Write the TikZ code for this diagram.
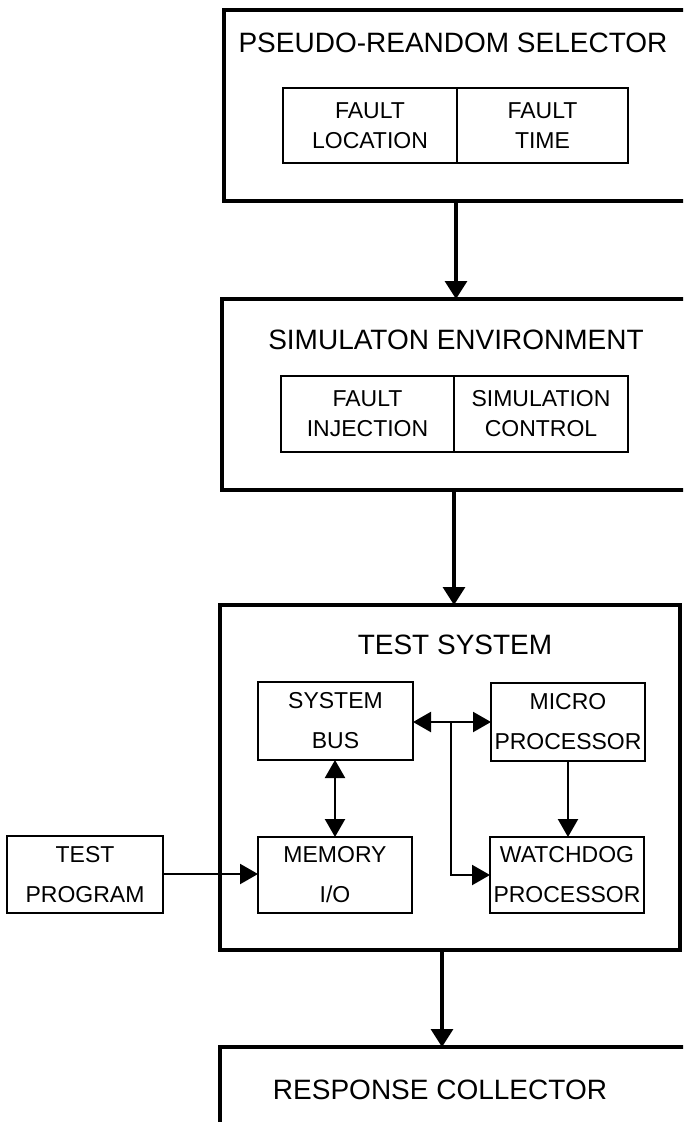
\documentclass[tikz,border=0pt]{standalone}
\usepackage{fontspec}
\setmainfont{Liberation Sans}
\usetikzlibrary{arrows.meta}
\begin{document}
\begin{tikzpicture}[x=1pt,y=-1pt,
  outer/.style={draw,line width=3.4pt,outer sep=0pt,inner sep=0pt,anchor=north west},
  cell/.style={draw,line width=2.2pt,outer sep=0pt,inner sep=0pt,align=center,font=\fontsize{23}{30}\selectfont},
  blk/.style={draw,line width=2.2pt,outer sep=0pt,inner sep=0pt,align=center,font=\fontsize{23}{40}\selectfont},
  ttl/.style={font=\fontsize{28}{30}\selectfont,inner sep=0pt},
  bigarrow/.style={line width=3.2pt,-{Triangle[length=18pt,width=22pt]}},
  smallarrow/.style={line width=2.2pt,-{Triangle[length=18pt,width=20pt]}},
  dblarrow/.style={line width=2.2pt,{Triangle[length=18pt,width=20pt]}-{Triangle[length=18pt,width=20pt]}},
]
\useasboundingbox (0,0) rectangle (683,1122);
\clip (0,0) rectangle (683,1122);

% outer boxes
\node[outer,minimum width=470pt,minimum height=191pt] (b1) at (224,10) {};
\node[outer,minimum width=472pt,minimum height=191pt] (b2) at (222,299) {};
\node[outer,minimum width=460pt,minimum height=345pt] (b3) at (220,605) {};
\node[outer,minimum width=474pt,minimum height=77pt] (b4) at (220,1047) {};

% titles
\node[ttl] (t1) at (453,43) {PSEUDO-REANDOM SELECTOR};
\node[ttl] (t2) at (456,340) {SIMULATON ENVIRONMENT};
\node[ttl] (t3) at (455,645) {TEST SYSTEM};
\node[ttl] (t4) at (440,1090) {RESPONSE COLLECTOR};

% cells of selector
\node[cell,minimum width=174pt,minimum height=75pt] (c1a) at (370,125.5) {FAULT\\LOCATION};
\node[cell,minimum width=171pt,minimum height=75pt] (c1b) at (542.5,125.5) {FAULT\\TIME};

% cells of simulation environment
\node[cell,minimum width=173pt,minimum height=76pt] (c2a) at (367.5,414) {FAULT\\INJECTION};
\node[cell,minimum width=174pt,minimum height=76pt] (c2b) at (541,414) {SIMULATION\\CONTROL};

% test system blocks
\node[blk,minimum width=155pt,minimum height=78pt] (bus) at (335.5,721) {SYSTEM\\BUS};
\node[blk,minimum width=154pt,minimum height=78pt] (micro) at (568,722) {MICRO\\PROCESSOR};
\node[blk,minimum width=154pt,minimum height=76pt] (mem) at (335,875) {MEMORY\\I/O};
\node[blk,minimum width=154pt,minimum height=76pt] (wd) at (567,875) {WATCHDOG\\PROCESSOR};
\node[blk,minimum width=156pt,minimum height=77pt] (tp) at (85,874.5) {TEST\\PROGRAM};

% main arrows
\coordinate (ax1) at (456,0);
\coordinate (ax2) at (454,0);
\coordinate (ax3) at (442,0);
\draw[bigarrow] (b1.south -| ax1) -- (b2.north -| ax1);
\draw[bigarrow] (b2.south -| ax2) -- (b3.north -| ax2);
\draw[bigarrow] (b3.south -| ax3) -- (b4.north -| ax3);

% inner arrows
\coordinate (j) at (451,722);
\coordinate (k) at (0,874);
\draw[dblarrow] (bus.east |- j) -- (micro.west |- j);
\draw[smallarrow] (j) |- (wd.west);
\draw[dblarrow] (bus.south -| mem.north) -- (mem.north);
\draw[smallarrow] (micro.south) -- (wd.north -| micro.south);
\draw[smallarrow] (tp.east |- k) -- (mem.west |- k);
\end{tikzpicture}
\end{document}
